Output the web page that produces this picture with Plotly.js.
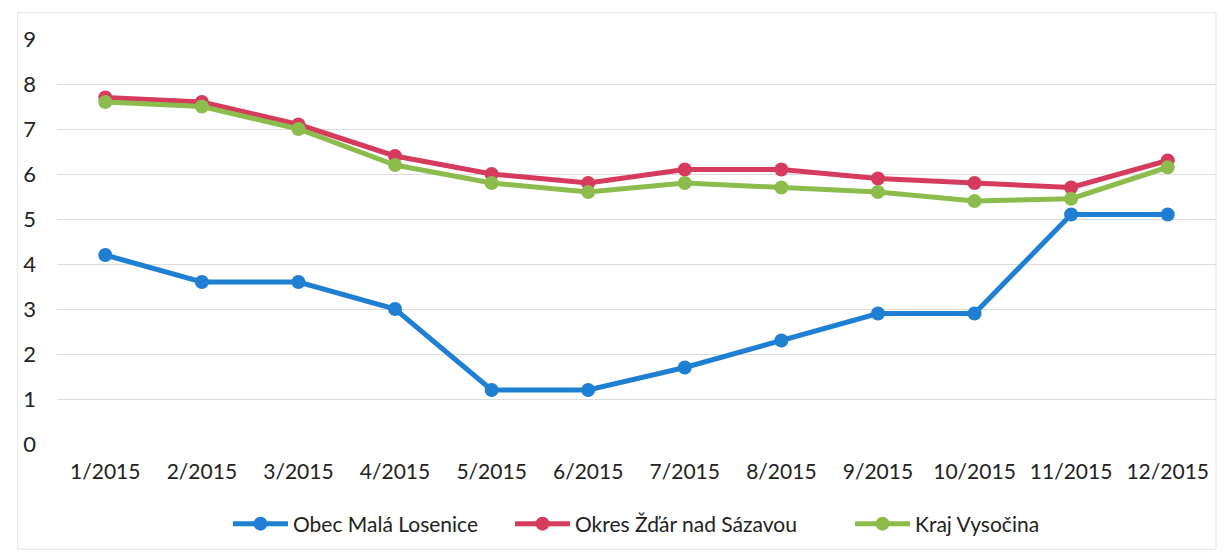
<!DOCTYPE html>
<html>
<head>
<meta charset="utf-8">
<script src="https://cdn.plot.ly/plotly-3.0.1.min.js"></script>
<style>
html,body{margin:0;padding:0;background:#fff;}
#chart{width:1232px;height:556px;}
</style>
</head>
<body>
<div id="chart"></div>
<script>
const months = ["1/2015","2/2015","3/2015","4/2015","5/2015","6/2015","7/2015","8/2015","9/2015","10/2015","11/2015","12/2015"];
const obecName = "Obec Malá Losenice";
const okresName = "Okres Žďár nad Sázavou";
const krajName = "Kraj Vysočina";
const obecValues = [4.2, 3.6, 3.6, 3.0, 1.2, 1.2, 1.7, 2.3, 2.9, 2.9, 5.1, 5.1];
const okresValues = [7.7, 7.6, 7.1, 6.4, 6.0, 5.8, 6.1, 6.1, 5.9, 5.8, 5.7, 6.3];
const krajValues = [7.6, 7.5, 7.0, 6.2, 5.8, 5.6, 5.8, 5.7, 5.6, 5.4, 5.45, 6.15];
const yTicks = [0,1,2,3,4,5,6,7,8,9];

function series(name, values, color, legendId){
  return {
    type: "scatter", mode: "lines+markers", name: name, legend: legendId,
    x: months, y: values,
    line: {color: color, width: 5},
    marker: {color: color, size: 14},
    cliponaxis: false
  };
}

const data = [
  series(obecName, obecValues, "#1f7fd3", "legend"),
  series(okresName, okresValues, "#d63b5e", "legend2"),
  series(krajName, krajValues, "#8cbd4c", "legend3")
];

const FONT = "Lato, sans-serif";
function leg(px){
  return {orientation: "h", xref: "container", yref: "container",
          x: px / 1232, xanchor: "left", y: (556 - 524) / 556, yanchor: "middle",
          font: {family: FONT, size: 21, color: "#222"}, itemwidth: 55,
          bgcolor: "rgba(0,0,0,0)"};
}
const layout = {
  width: 1232, height: 556,
  margin: {l: 57, r: 16, t: 39, b: 112, autoexpand: false},
  paper_bgcolor: "#ffffff", plot_bgcolor: "#ffffff",
  font: {family: FONT, size: 21, color: "#222222"},
  showlegend: true,
  legend: leg(228),
  legend2: leg(510),
  legend3: leg(850),
  xaxis: {
    type: "category", range: [-0.5, 11.5], autorange: false,
    showgrid: false, zeroline: false, showline: false, automargin: false,
    ticks: "", ticklabelstandoff: 13,
    tickfont: {family: FONT, size: 21, color: "#222"}
  },
  yaxis: {
    range: [0, 9], autorange: false, tickmode: "array", tickvals: yTicks,
    showgrid: true, gridcolor: "#dcdcdc", gridwidth: 1, automargin: false,
    zeroline: false, showline: false, ticks: "", ticklabelstandoff: 20,
    tickfont: {family: FONT, size: 22, color: "#222"}
  },
  shapes: [{type: "rect", xref: "paper", yref: "paper", x0: -0.034, x1: 1.0, y0: -0.26, y1: 1.065,
            line: {color: "#e6e6e6", width: 1}, layer: "below"}]
};

Plotly.newPlot("chart", data, layout, {displayModeBar: false, staticPlot: true});
</script>
</body>
</html>
